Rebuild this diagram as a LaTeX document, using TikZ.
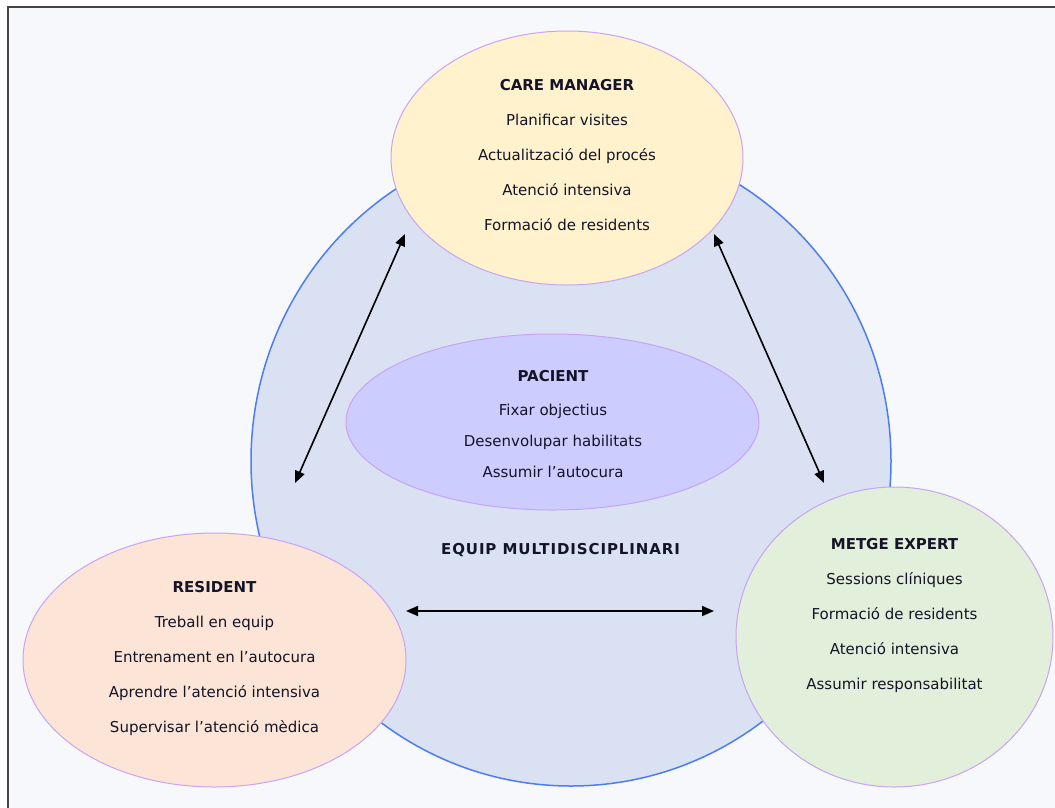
\documentclass[tikz,border=0pt]{standalone}
\usepackage{fontspec}
\setmainfont{DejaVu Sans}
\usetikzlibrary{shapes.geometric,arrows.meta}
\definecolor{bgc}{HTML}{F7F8FC}
\definecolor{framec}{HTML}{444444}
\definecolor{circf}{HTML}{D9E1F2}
\definecolor{circd}{HTML}{4D7DF3}
\definecolor{lav}{HTML}{C9A3F5}
\definecolor{cmf}{HTML}{FFF2CC}
\definecolor{pacf}{HTML}{CCCCFF}
\definecolor{resf}{HTML}{FCE4D6}
\definecolor{metf}{HTML}{E2EFDA}
\definecolor{ink}{HTML}{141428}
\begin{document}
\begin{tikzpicture}[x=1pt,y=-1pt,
  blob/.style={ellipse, draw=lav, line width=1pt, inner sep=0pt, outer sep=0pt},
  txt/.style={align=center, font=\fontsize{15}{35}\selectfont, text=ink, inner sep=0pt},
  ptxt/.style={align=center, font=\fontsize{15}{31}\selectfont, text=ink, inner sep=0pt},
  link/.style={{Triangle[length=12pt,width=10pt]}-{Triangle[length=12pt,width=10pt]}, line width=1.6pt, black}]
\useasboundingbox (0,0) rectangle (1055,807);
\clip (0,0) rectangle (1055,807);
\fill[white] (0,0) rectangle (1055,807);
\fill[bgc] (7.5,6.5) rectangle (1070,820);
\draw[framec, line width=2pt] (7.5,820) -- (7.5,6.5) -- (1070,6.5);

\node[ellipse, fill=circf, draw=circd, line width=1.5pt, inner sep=0pt, outer sep=0pt,
      minimum width=640pt, minimum height=650pt] (team) at (571,461) {};
\node[blob, fill=cmf, minimum width=352pt, minimum height=254pt] (cm) at (567,158) {};
\node[blob, fill=pacf, minimum width=413pt, minimum height=176pt] (pac) at (552.5,422) {};
\node[blob, fill=resf, minimum width=383pt, minimum height=254pt] (res) at (214.5,660) {};
\node[blob, fill=metf, minimum width=317pt, minimum height=300pt] (met) at (894.5,637) {};

\node[txt] (cmt) at (567,155) {\textbf{CARE MANAGER}\\Planificar visites\\Actualització del procés\\Atenció intensiva\\Formació de residents};
\node[ptxt] (pact) at (553,424) {\textbf{PACIENT}\\[3pt]Fixar objectius\\Desenvolupar habilitats\\Assumir l’autocura};
\node[txt] (rest) at (214.5,658) {\textbf{RESIDENT}\\Treball en equip\\Entrenament en l’autocura\\Aprendre l’atenció intensiva\\Supervisar l’atenció mèdica};
\node[txt] (mett) at (894.5,615) {\textbf{METGE EXPERT}\\Sessions clíniques\\Formació de residents\\Atenció intensiva\\Assumir responsabilitat};
\node[txt, font=\fontsize{15}{35}\selectfont\bfseries\addfontfeatures{LetterSpace=6}] (teamt) at (560.5,550) {EQUIP MULTIDISCIPLINARI};

\coordinate (l1) at (295,483);
\coordinate (l2) at (405,234);
\coordinate (r1) at (824,483);
\coordinate (r2) at (714,234);
\coordinate (h1) at (406,611);
\coordinate (h2) at (714,611);
\draw[link] (l1) -- (l2);
\draw[link] (r1) -- (r2);
\draw[link] (h1) -- (h2);
\end{tikzpicture}
\end{document}
